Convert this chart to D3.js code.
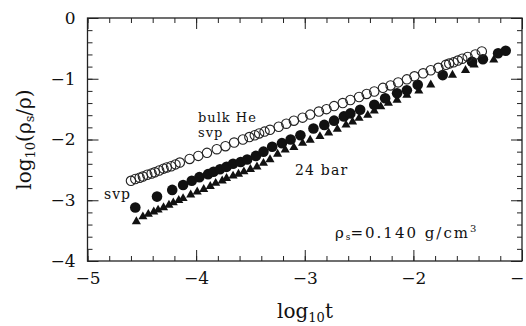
<!DOCTYPE html>
<html>
<head>
<meta charset="utf-8">
<script src="https://cdn.jsdelivr.net/npm/d3@7"></script>
<style>
  body { margin: 0; background: #fff; }
  svg { display: block; }
  text { font-family: "DejaVu Serif", serif; fill: #111; }
</style>
</head>
<body>
<div id="chart"></div>
<script>

// bulk He, svp (open circles)
const OPEN_X = [-4.60, -4.56, -4.52, -4.49, -4.45, -4.41, -4.38, -4.34, -4.30, -4.27, -4.23, -4.19, -4.15,
                -4.06, -3.98, -3.90, -3.81, -3.73, -3.65, -3.57, -3.51, -3.46, -3.42, -3.37, -3.32,
                -3.24, -3.17, -3.10, -3.02, -2.95, -2.87, -2.80, -2.73, -2.65, -2.58, -2.50, -2.43,
                -2.36, -2.28, -2.21, -2.14, -2.06, -1.99, -1.91, -1.84, -1.77, -1.70, -1.67, -1.63,
                -1.59, -1.55, -1.50, -1.43, -1.37];
const OPEN_Y = [-2.68, -2.65, -2.63, -2.61, -2.58, -2.56, -2.54, -2.51, -2.48, -2.46, -2.44, -2.41, -2.38,
                -2.32, -2.27, -2.22, -2.16, -2.11, -2.05, -2.00, -1.96, -1.93, -1.90, -1.87, -1.84,
                -1.79, -1.74, -1.69, -1.64, -1.59, -1.54, -1.50, -1.45, -1.40, -1.35, -1.30, -1.25,
                -1.21, -1.15, -1.11, -1.06, -1.01, -0.96, -0.91, -0.86, -0.82, -0.77, -0.75, -0.73,
                -0.70, -0.67, -0.64, -0.60, -0.55];

// film, svp (filled circles)
const SVP_X = [-4.56, -4.36, -4.22, -4.12, -4.04, -3.97, -3.89, -3.84, -3.78, -3.72, -3.66, -3.59, -3.53,
               -3.45, -3.38, -3.30, -3.21, -3.13, -3.04, -2.92, -2.82, -2.73, -2.64, -2.58, -2.49,
               -2.36, -2.26, -2.15, -2.06, -1.96, -1.73, -1.46, -1.36, -1.22, -1.15];
const SVP_Y = [-3.12, -2.94, -2.83, -2.75, -2.68, -2.62, -2.57, -2.53, -2.49, -2.45, -2.40, -2.37, -2.33,
               -2.27, -2.20, -2.12, -2.06, -2.00, -1.93, -1.82, -1.76, -1.69, -1.62, -1.57, -1.51,
               -1.43, -1.32, -1.24, -1.19, -1.10, -0.94, -0.72, -0.68, -0.58, -0.54];

// film, 24 bar (filled triangles)
const BAR24_X = [-4.55, -4.49, -4.44, -4.39, -4.35, -4.30, -4.25, -4.21, -4.16, -4.12, -4.05, -3.99, -3.93,
                 -3.87, -3.82, -3.76, -3.72, -3.66, -3.61, -3.56, -3.50, -3.44, -3.38, -3.32, -3.25,
                 -3.18, -3.10, -3.02, -2.95, -2.86, -2.78, -2.70, -2.62, -2.56, -2.50, -2.42, -2.36,
                 -2.30, -2.23, -2.15, -2.06, -1.95, -1.84, -1.64, -1.52, -1.44, -1.26];
const BAR24_Y = [-3.35, -3.27, -3.23, -3.19, -3.16, -3.12, -3.08, -3.04, -3.00, -2.97, -2.91, -2.86, -2.82,
                 -2.77, -2.72, -2.68, -2.64, -2.60, -2.57, -2.53, -2.49, -2.45, -2.39, -2.33, -2.24,
                 -2.17, -2.13, -2.06, -2.01, -1.95, -1.89, -1.83, -1.76, -1.71, -1.65, -1.60, -1.53,
                 -1.46, -1.40, -1.35, -1.27, -1.20, -1.10, -0.94, -0.86, -0.77, -0.69];

const X_TICKS = [-5, -4, -3, -2, -1];
const Y_TICKS = [0, -1, -2, -3, -4];
const X_MINOR = d3.range(-5, -0.99, 0.2);
const Y_MINOR = d3.range(-4, 0.01, 0.2);

const FRAME_WIDTH = 526;
const FRAME_HEIGHT = 326;
const MARGINS = {left: 87.5, right: 4, top: 18, bottom: 65};
const VIS_WIDTH = FRAME_WIDTH - MARGINS.left - MARGINS.right;
const VIS_HEIGHT = FRAME_HEIGHT - MARGINS.top - MARGINS.bottom;

const FRAME = d3.select("#chart")
                .append("svg")
                  .attr("width", FRAME_WIDTH)
                  .attr("height", FRAME_HEIGHT);

const X_SCALE = d3.scaleLinear().domain([-5, -1]).range([0, VIS_WIDTH]);
const Y_SCALE = d3.scaleLinear().domain([-4, 0]).range([VIS_HEIGHT, 0]);

const G = FRAME.append("g")
               .attr("transform", "translate(" + MARGINS.left + "," + MARGINS.top + ")");

const fmt = d3.format("d");

// ticks, all pointing inward
function addAxis(axis, tx, ty, labels) {
  const a = G.append("g")
             .attr("transform", "translate(" + tx + "," + ty + ")")
             .call(axis);
  a.select(".domain").remove();
  a.selectAll("line").attr("stroke", "#222").attr("stroke-width", 1);
  a.selectAll("text").attr("font-size", "17px");
  if (!labels) a.selectAll("text").remove();
  return a;
}

addAxis(d3.axisBottom(X_SCALE).tickValues(X_MINOR).tickSize(-5).tickFormat(""), 0, VIS_HEIGHT, false);
addAxis(d3.axisBottom(X_SCALE).tickValues(X_TICKS).tickSize(-11).tickPadding(11).tickFormat(fmt), 0, VIS_HEIGHT, true);
addAxis(d3.axisTop(X_SCALE).tickValues(X_MINOR).tickSize(-5).tickFormat(""), 0, 0, false);
addAxis(d3.axisTop(X_SCALE).tickValues(X_TICKS).tickSize(-11).tickFormat(""), 0, 0, false);

addAxis(d3.axisLeft(Y_SCALE).tickValues(Y_MINOR).tickSize(-5).tickFormat(""), 0, 0, false);
addAxis(d3.axisLeft(Y_SCALE).tickValues(Y_TICKS).tickSize(-11).tickPadding(12).tickFormat(fmt), 0, 0, true);
addAxis(d3.axisRight(Y_SCALE).tickValues(Y_MINOR).tickSize(-5).tickFormat(""), VIS_WIDTH, 0, false);
addAxis(d3.axisRight(Y_SCALE).tickValues(Y_TICKS).tickSize(-11).tickFormat(""), VIS_WIDTH, 0, false);

G.append("rect")
   .attr("x", 0).attr("y", 0)
   .attr("width", VIS_WIDTH).attr("height", VIS_HEIGHT)
   .attr("fill", "none")
   .attr("stroke", "#222")
   .attr("stroke-width", 1.3);

// 24 bar triangles
const tri = d3.symbol().type(d3.symbolTriangle).size(36);
G.selectAll("tri")
   .data(d3.zip(BAR24_X, BAR24_Y))
   .enter()
   .append("path")
     .attr("d", tri)
     .attr("transform", (d) => { return "translate(" + X_SCALE(d[0]) + "," + Y_SCALE(d[1]) + ")"; })
     .attr("fill", "#111");

// svp filled circles
G.selectAll("dots")
   .data(d3.zip(SVP_X, SVP_Y))
   .enter()
   .append("circle")
     .attr("cx", (d) => { return X_SCALE(d[0]); })
     .attr("cy", (d) => { return Y_SCALE(d[1]); })
     .attr("r", 5.3)
     .attr("fill", "#111");

// bulk He open circles
G.selectAll("rings")
   .data(d3.zip(OPEN_X, OPEN_Y))
   .enter()
   .append("circle")
     .attr("cx", (d) => { return X_SCALE(d[0]); })
     .attr("cy", (d) => { return Y_SCALE(d[1]); })
     .attr("r", 4.7)
     .attr("fill", "none")
     .attr("stroke", "#222")
     .attr("stroke-width", 1.1);

// annotations
FRAME.append("text").attr("x", 198).attr("y", 122).attr("font-size", "13px")
     .attr("letter-spacing", "1px").text("bulk He");
FRAME.append("text").attr("x", 198).attr("y", 137).attr("font-size", "13px")
     .attr("letter-spacing", "1px").text("svp");
FRAME.append("text").attr("x", 104).attr("y", 199).attr("font-size", "14px")
     .attr("letter-spacing", "1px").text("svp");
FRAME.append("text").attr("x", 295).attr("y", 175).attr("font-size", "14px")
     .attr("letter-spacing", "1.2px").text("24 bar");

const rho = FRAME.append("text").attr("x", 335).attr("y", 238).attr("font-size", "15px")
                 .attr("letter-spacing", "2px");
rho.append("tspan").text("ρ");
rho.append("tspan").attr("font-size", "9px").attr("dy", 2).attr("letter-spacing", "0px").text("s");
rho.append("tspan").attr("dy", -2).text("=0.140 g/cm");
rho.append("tspan").attr("font-size", "10px").attr("dy", -6).text("3");

// axis titles
const xl = FRAME.append("text")
                .attr("x", 305).attr("y", 318)
                .attr("text-anchor", "middle")
                .attr("font-size", "20px");
xl.append("tspan").text("log");
xl.append("tspan").attr("font-size", "13px").attr("dy", 4).text("10");
xl.append("tspan").attr("dy", -4).text("t");

const yl = FRAME.append("text")
                .attr("transform", "translate(31," + (MARGINS.top + VIS_HEIGHT / 2) + ") rotate(-90)")
                .attr("text-anchor", "middle")
                .attr("font-size", "20px");
yl.append("tspan").text("log");
yl.append("tspan").attr("font-size", "13px").attr("dy", 4).text("10");
yl.append("tspan").attr("dy", -4).text("(ρ");
yl.append("tspan").attr("font-size", "13px").attr("dy", 3).text("s");
yl.append("tspan").attr("dy", -3).text("/ρ)");

</script>
</body>
</html>
